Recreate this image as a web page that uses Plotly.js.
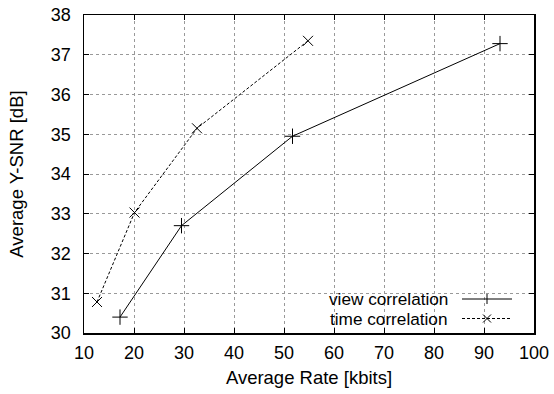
<!DOCTYPE html>
<html><head><meta charset="utf-8">
<script src="https://cdn.plot.ly/plotly-3.0.1.min.js"></script>
<style>html,body{margin:0;padding:0;background:#fff}#chart{width:554px;height:394px}</style>
</head><body><div id="chart"></div>
<script>
const viewRate = [17.2, 29.5, 51.7, 93.2];
const viewSNR  = [30.4, 32.7, 34.95, 37.28];
const timeRate = [12.6, 20.1, 32.6, 54.8];
const timeSNR  = [30.78, 33.03, 35.15, 37.35];
const xTicks = [10,20,30,40,50,60,70,80,90,100];
const yTicks = [30,31,32,33,34,35,36,37,38];
const seriesNames = ['view correlation', 'time correlation'];

const FONT = 'Liberation Sans, Arial, sans-serif';
const FS = 18.5;
const TFS = 18;
const LFS = 17.2;

const traces = [
  {x: viewRate, y: viewSNR, mode: 'lines+markers', name: seriesNames[0],
   line: {color: '#000', width: 1}, marker: {symbol: 'cross-thin-open', size: 11, line: {color: '#000', width: 1}}},
  {x: timeRate, y: timeSNR, mode: 'lines+markers', name: seriesNames[1],
   line: {color: '#000', width: 1, dash: '3px,2px'}, marker: {symbol: 'x-thin-open', size: 10, line: {color: '#000', width: 1}}}
];

// legend (gnuplot style: text then sample), paper coordinates
const L = 84, W = 450, B = 333, H = 318;
const px = v => (v - L) / W, py = v => (B - v) / H;
const rows = [299, 318.5];
const shapes = [
  {type: 'rect', xref: 'paper', yref: 'paper', x0: px(267), x1: 1, y0: 0, y1: py(291),
   fillcolor: '#fff', line: {width: 0}, layer: 'between'}
];
const annotations = [];
rows.forEach((r, i) => {
  annotations.push({xref: 'paper', yref: 'paper', x: px(450), y: py(r), xanchor: 'right', yanchor: 'middle',
    text: seriesNames[i], showarrow: false, font: {family: FONT, size: LFS, color: '#000'}});
  shapes.push({type: 'line', xref: 'paper', yref: 'paper', x0: px(462), x1: px(512), y0: py(r), y1: py(r),
    line: {color: '#000', width: 1, dash: i ? '3px,2px' : 'solid'}});
  const c = 487, s = i ? 4 : 5;
  if (i === 0) {
    shapes.push({type: 'line', xref: 'paper', yref: 'paper', x0: px(c), x1: px(c), y0: py(r - s), y1: py(r + s), line: {color: '#000', width: 1}});
  } else {
    shapes.push({type: 'line', xref: 'paper', yref: 'paper', x0: px(c - s), x1: px(c + s), y0: py(r - s), y1: py(r + s), line: {color: '#000', width: 1}});
    shapes.push({type: 'line', xref: 'paper', yref: 'paper', x0: px(c - s), x1: px(c + s), y0: py(r + s), y1: py(r - s), line: {color: '#000', width: 1}});
  }
});

const axisCommon = {
  showline: true, linecolor: '#000', linewidth: 1.5, mirror: 'allticks',
  ticks: 'inside', ticklen: 5, tickwidth: 1, tickcolor: '#000',
  showgrid: true, gridcolor: '#999', gridwidth: 1, griddash: 'dot',
  zeroline: false, tickfont: {family: FONT, size: TFS, color: '#000'}
};

const layout = {
  width: 554, height: 394,
  margin: {l: 84, r: 20, t: 15, b: 61},
  paper_bgcolor: '#fff', plot_bgcolor: '#fff',
  showlegend: false,
  font: {family: FONT, size: FS, color: '#000'},
  xaxis: Object.assign({}, axisCommon, {range: [10, 100], tickvals: xTicks, ticktext: xTicks.map(String),
    ticklabelstandoff: 3,
    title: {text: 'Average Rate [kbits]', font: {family: FONT, size: FS}, standoff: 9}}),
  yaxis: Object.assign({}, axisCommon, {range: [30, 38], tickvals: yTicks, ticktext: yTicks.map(String),
    ticklabelstandoff: 8,
    title: {text: 'Average Y-SNR [dB]', font: {family: FONT, size: FS}, standoff: 22}}),
  shapes: shapes, annotations: annotations
};

Plotly.newPlot('chart', traces, layout, {staticPlot: true, displayModeBar: false});
</script></body></html>
